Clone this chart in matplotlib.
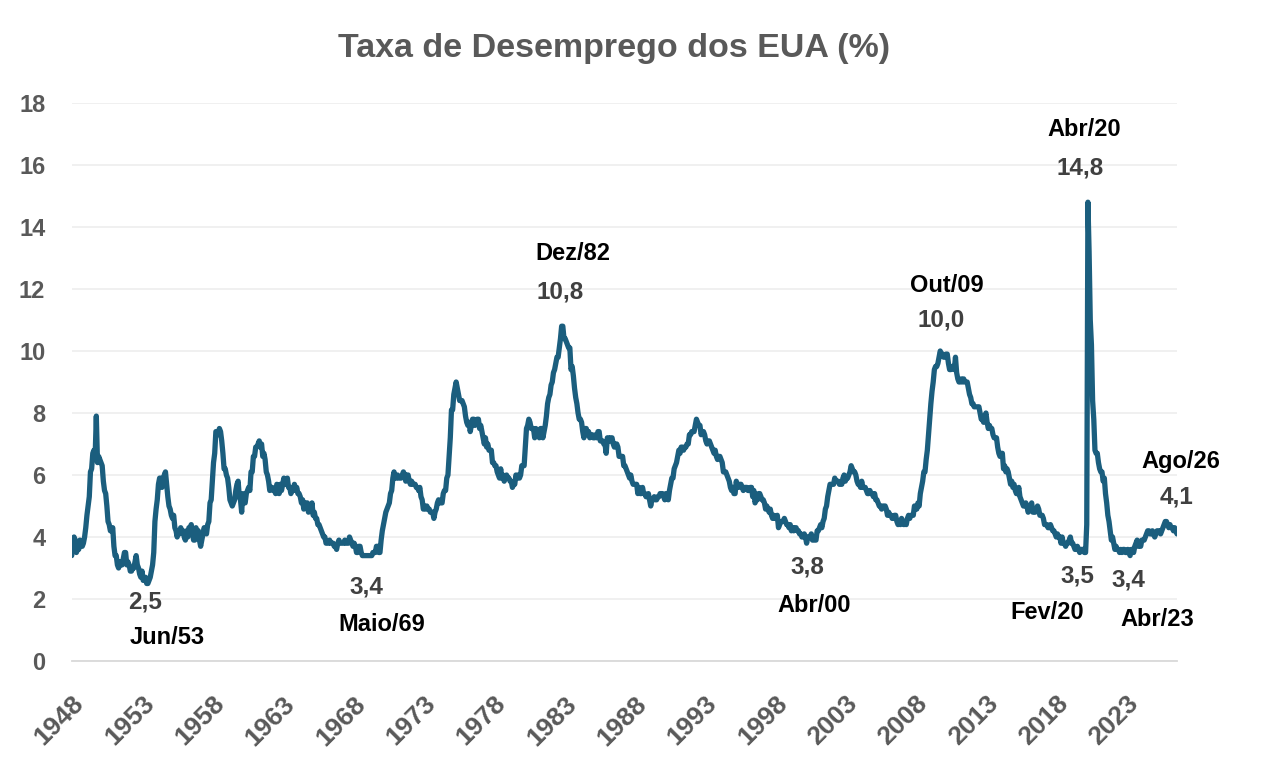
import numpy as np
import matplotlib.pyplot as plt

plt.rcParams['font.family'] = ['Liberation Sans', 'DejaVu Sans']
plt.rcParams['font.weight'] = 'bold'

start_year = 1948

# taxa de desemprego mensal (%), jan/1948 a ago/2026, uma linha por ano
unemp = [
    3.4, 3.8, 4.0, 3.9, 3.5, 3.6, 3.6, 3.9, 3.8, 3.7, 3.8, 4.0,
    4.3, 4.7, 5.0, 5.3, 6.1, 6.2, 6.7, 6.8, 6.6, 7.9, 6.4, 6.6,
    6.5, 6.4, 6.3, 5.8, 5.5, 5.4, 5.0, 4.5, 4.4, 4.2, 4.2, 4.3,
    3.7, 3.4, 3.4, 3.1, 3.0, 3.2, 3.1, 3.1, 3.3, 3.5, 3.5, 3.1,
    3.2, 3.1, 2.9, 2.9, 3.0, 3.0, 3.2, 3.4, 3.1, 3.0, 2.8, 2.7,
    2.9, 2.6, 2.6, 2.7, 2.5, 2.5, 2.6, 2.7, 2.9, 3.1, 3.5, 4.5,
    4.9, 5.2, 5.7, 5.9, 5.9, 5.6, 5.8, 6.0, 6.1, 5.7, 5.3, 5.0,
    4.9, 4.7, 4.6, 4.7, 4.3, 4.2, 4.0, 4.2, 4.1, 4.3, 4.2, 4.2,
    4.0, 3.9, 4.2, 4.0, 4.3, 4.3, 4.4, 4.1, 3.9, 3.9, 4.3, 4.2,
    4.2, 3.9, 3.7, 3.9, 4.1, 4.3, 4.2, 4.1, 4.4, 4.5, 5.1, 5.2,
    5.8, 6.4, 6.7, 7.4, 7.4, 7.3, 7.5, 7.4, 7.1, 6.7, 6.2, 6.2,
    6.0, 5.9, 5.6, 5.2, 5.1, 5.0, 5.1, 5.2, 5.5, 5.7, 5.8, 5.3,
    5.2, 4.8, 5.4, 5.2, 5.1, 5.4, 5.5, 5.6, 5.5, 6.1, 6.1, 6.6,
    6.6, 6.9, 6.9, 7.0, 7.1, 6.9, 7.0, 6.6, 6.7, 6.5, 6.1, 6.0,
    5.8, 5.5, 5.6, 5.6, 5.5, 5.5, 5.4, 5.7, 5.6, 5.4, 5.7, 5.5,
    5.7, 5.9, 5.7, 5.7, 5.9, 5.6, 5.6, 5.4, 5.5, 5.5, 5.7, 5.5,
    5.6, 5.4, 5.4, 5.3, 5.1, 5.2, 4.9, 5.0, 5.1, 5.1, 4.8, 5.0,
    4.9, 5.1, 4.7, 4.8, 4.6, 4.6, 4.4, 4.4, 4.3, 4.2, 4.1, 4.0,
    4.0, 3.8, 3.8, 3.8, 3.9, 3.8, 3.8, 3.8, 3.7, 3.7, 3.6, 3.8,
    3.9, 3.8, 3.8, 3.8, 3.8, 3.9, 3.8, 3.8, 3.8, 4.0, 3.9, 3.8,
    3.7, 3.8, 3.7, 3.5, 3.5, 3.7, 3.7, 3.5, 3.4, 3.4, 3.4, 3.4,
    3.4, 3.4, 3.4, 3.4, 3.4, 3.5, 3.5, 3.5, 3.7, 3.7, 3.5, 3.5,
    3.9, 4.2, 4.4, 4.6, 4.8, 4.9, 5.0, 5.1, 5.4, 5.5, 5.9, 6.1,
    5.9, 5.9, 6.0, 5.9, 5.9, 5.9, 6.0, 6.1, 6.0, 5.8, 6.0, 6.0,
    5.8, 5.7, 5.8, 5.7, 5.7, 5.7, 5.6, 5.6, 5.5, 5.6, 5.3, 5.2,
    4.9, 5.0, 4.9, 5.0, 4.9, 4.9, 4.8, 4.8, 4.8, 4.6, 4.8, 4.9,
    5.1, 5.2, 5.1, 5.1, 5.1, 5.4, 5.5, 5.5, 5.9, 6.0, 6.6, 7.2,
    8.1, 8.1, 8.6, 8.8, 9.0, 8.8, 8.6, 8.4, 8.4, 8.4, 8.3, 8.2,
    7.9, 7.7, 7.6, 7.7, 7.4, 7.6, 7.8, 7.8, 7.6, 7.7, 7.8, 7.8,
    7.5, 7.6, 7.4, 7.2, 7.0, 7.2, 6.9, 7.0, 6.8, 6.8, 6.8, 6.4,
    6.4, 6.3, 6.3, 6.1, 6.0, 5.9, 6.2, 5.9, 6.0, 5.8, 5.9, 6.0,
    5.9, 5.9, 5.8, 5.8, 5.6, 5.7, 5.7, 6.0, 5.9, 6.0, 5.9, 6.0,
    6.3, 6.3, 6.3, 6.9, 7.5, 7.6, 7.8, 7.7, 7.5, 7.5, 7.5, 7.2,
    7.5, 7.4, 7.4, 7.2, 7.5, 7.5, 7.2, 7.4, 7.6, 7.9, 8.3, 8.5,
    8.6, 8.9, 9.0, 9.3, 9.4, 9.6, 9.8, 9.8, 10.1, 10.4, 10.8, 10.8,
    10.4, 10.4, 10.3, 10.2, 10.1, 10.1, 9.4, 9.5, 9.2, 8.8, 8.5, 8.3,
    8.0, 7.8, 7.8, 7.7, 7.4, 7.2, 7.5, 7.5, 7.3, 7.4, 7.2, 7.3,
    7.3, 7.2, 7.2, 7.3, 7.2, 7.4, 7.4, 7.1, 7.1, 7.1, 7.0, 7.0,
    6.7, 7.2, 7.2, 7.1, 7.2, 7.2, 7.0, 6.9, 7.0, 7.0, 6.9, 6.6,
    6.6, 6.6, 6.6, 6.3, 6.3, 6.2, 6.1, 6.0, 5.9, 6.0, 5.8, 5.7,
    5.7, 5.7, 5.7, 5.4, 5.6, 5.4, 5.4, 5.6, 5.4, 5.4, 5.3, 5.3,
    5.4, 5.2, 5.0, 5.2, 5.2, 5.3, 5.2, 5.2, 5.3, 5.3, 5.4, 5.4,
    5.4, 5.3, 5.2, 5.4, 5.4, 5.2, 5.5, 5.7, 5.9, 5.9, 6.2, 6.3,
    6.4, 6.6, 6.8, 6.7, 6.9, 6.9, 6.8, 6.9, 6.9, 7.0, 7.0, 7.3,
    7.3, 7.4, 7.4, 7.4, 7.6, 7.8, 7.7, 7.6, 7.6, 7.3, 7.4, 7.4,
    7.3, 7.1, 7.0, 7.1, 7.1, 7.0, 6.9, 6.8, 6.7, 6.8, 6.6, 6.5,
    6.6, 6.6, 6.5, 6.4, 6.1, 6.1, 6.1, 6.0, 5.9, 5.8, 5.6, 5.5,
    5.6, 5.4, 5.4, 5.8, 5.6, 5.6, 5.7, 5.7, 5.6, 5.5, 5.6, 5.6,
    5.6, 5.5, 5.5, 5.6, 5.6, 5.3, 5.5, 5.1, 5.2, 5.2, 5.4, 5.4,
    5.3, 5.2, 5.2, 5.1, 4.9, 5.0, 4.9, 4.8, 4.9, 4.7, 4.6, 4.7,
    4.6, 4.6, 4.7, 4.3, 4.4, 4.5, 4.5, 4.5, 4.6, 4.5, 4.4, 4.4,
    4.3, 4.4, 4.2, 4.3, 4.2, 4.3, 4.3, 4.2, 4.2, 4.1, 4.1, 4.0,
    4.0, 4.1, 4.0, 3.8, 4.0, 4.0, 4.0, 4.1, 3.9, 3.9, 3.9, 3.9,
    4.2, 4.2, 4.3, 4.4, 4.3, 4.5, 4.6, 4.9, 5.0, 5.3, 5.5, 5.7,
    5.7, 5.7, 5.7, 5.9, 5.8, 5.8, 5.8, 5.7, 5.7, 5.7, 5.9, 6.0,
    5.8, 5.9, 5.9, 6.0, 6.1, 6.3, 6.2, 6.1, 6.1, 6.0, 5.8, 5.7,
    5.7, 5.6, 5.8, 5.6, 5.6, 5.6, 5.5, 5.4, 5.4, 5.5, 5.4, 5.4,
    5.3, 5.4, 5.2, 5.2, 5.1, 5.0, 5.0, 4.9, 5.0, 5.0, 5.0, 4.9,
    4.7, 4.8, 4.7, 4.7, 4.6, 4.6, 4.7, 4.7, 4.5, 4.4, 4.5, 4.4,
    4.6, 4.5, 4.4, 4.5, 4.4, 4.6, 4.7, 4.6, 4.7, 4.7, 4.7, 5.0,
    5.0, 4.9, 5.1, 5.0, 5.4, 5.6, 5.8, 6.1, 6.1, 6.5, 6.8, 7.3,
    7.8, 8.3, 8.7, 9.0, 9.4, 9.5, 9.5, 9.6, 9.8, 10.0, 9.9, 9.9,
    9.8, 9.8, 9.9, 9.9, 9.6, 9.4, 9.4, 9.5, 9.5, 9.4, 9.8, 9.3,
    9.1, 9.0, 9.0, 9.1, 9.0, 9.1, 9.0, 9.0, 9.0, 8.8, 8.6, 8.5,
    8.3, 8.3, 8.2, 8.2, 8.2, 8.2, 8.2, 8.0, 7.8, 7.8, 7.7, 7.9,
    8.0, 7.7, 7.5, 7.6, 7.5, 7.5, 7.3, 7.2, 7.2, 7.2, 6.9, 6.7,
    6.6, 6.7, 6.7, 6.2, 6.3, 6.1, 6.2, 6.1, 5.9, 5.7, 5.8, 5.6,
    5.7, 5.5, 5.4, 5.4, 5.6, 5.3, 5.2, 5.1, 5.0, 5.0, 5.1, 5.0,
    4.8, 4.9, 5.0, 5.1, 4.8, 4.9, 4.8, 4.9, 5.0, 4.9, 4.7, 4.7,
    4.7, 4.6, 4.4, 4.4, 4.4, 4.3, 4.3, 4.4, 4.3, 4.2, 4.2, 4.1,
    4.0, 4.1, 4.0, 4.0, 3.8, 4.0, 3.8, 3.8, 3.7, 3.8, 3.8, 3.9,
    4.0, 3.8, 3.8, 3.7, 3.6, 3.6, 3.7, 3.6, 3.5, 3.6, 3.6, 3.6,
    3.5, 3.5, 4.4, 14.8, 13.2, 11.0, 10.2, 8.4, 7.8, 6.8, 6.7, 6.7,
    6.4, 6.2, 6.1, 6.1, 5.8, 5.9, 5.4, 5.1, 4.7, 4.5, 4.2, 3.9,
    4.0, 3.8, 3.6, 3.7, 3.6, 3.6, 3.5, 3.6, 3.5, 3.6, 3.6, 3.5,
    3.5, 3.6, 3.5, 3.4, 3.6, 3.6, 3.5, 3.7, 3.8, 3.9, 3.7, 3.8,
    3.7, 3.9, 3.9, 3.9, 4.0, 4.1, 4.2, 4.2, 4.1, 4.1, 4.2, 4.1,
    4.0, 4.1, 4.2, 4.2, 4.2, 4.1, 4.2, 4.3, 4.4, 4.5, 4.5, 4.4,
    4.3, 4.4, 4.3, 4.3, 4.2, 4.3, 4.2, 4.1,
]

# pontos destacados: (ano, mes) e rotulo
ann_dates = [(1953, 6), (1969, 5), (1982, 12), (2000, 4), (2009, 10),
             (2020, 2), (2020, 4), (2023, 4), (2026, 8)]
ann_names = ['Jun/53', 'Maio/69', 'Dez/82', 'Abr/00', 'Out/09',
             'Fev/20', 'Abr/20', 'Abr/23', 'Ago/26']
# deslocamento dos rotulos em pixels (dx, dy para baixo)
val_off = [(-3, 18), (-5, 31), (-3, -34), (1, 24), (1, -31),
           (-8, 24), (-8, -34), (-2, 24), (0, -37)]
name_off = [(19, 54), (10, 69), (10, -73), (8, 62), (7, -66),
            (-38, 60), (-4, -73), (27, 64), (4, -72)]

x = start_year + np.arange(len(unemp)) / 12

W, H = 1265, 768
fig = plt.figure(figsize=(W / 100, H / 100), dpi=100)
ax = fig.add_axes([71.7 / W, 1 - 661 / H, (1177 - 71.7) / W, (661 - 103) / H])

ax.plot(x, unemp, color='#1B5E7E', lw=3.8, solid_joinstyle='round',
        solid_capstyle='round', zorder=3)

ax.set_xlim(start_year, x[-1])
ax.set_ylim(0, 18)
ax.set_yticks(range(0, 19, 2))
ax.set_xticks(range(1948, 2024, 5))
ax.grid(axis='y', color='#EDEDED', lw=1.2)
ax.set_axisbelow(True)
for s in ['top', 'right', 'left']:
    ax.spines[s].set_visible(False)
ax.spines['bottom'].set_color('#D9D9D9')
ax.spines['bottom'].set_linewidth(1.3)

ax.tick_params(axis='y', length=0, pad=19, labelsize=17, labelcolor='#595959')
ax.tick_params(axis='x', length=0, pad=22, labelsize=19, labelcolor='#595959')
plt.setp(ax.get_xticklabels(), rotation=45, ha='right', va='top',
         rotation_mode='anchor')

for (yr, mo), name, vo, no in zip(ann_dates, ann_names, val_off, name_off):
    i = (yr - start_year) * 12 + mo - 1
    v = unemp[i]
    ax.annotate(f'{v:.1f}'.replace('.', ','), xy=(x[i], v),
                xytext=(vo[0] * 0.72, -vo[1] * 0.72), textcoords='offset points',
                ha='center', va='center', fontsize=17.5, color='#404040',
                annotation_clip=False)
    ax.annotate(name, xy=(x[i], v),
                xytext=(no[0] * 0.72, -no[1] * 0.72), textcoords='offset points',
                ha='center', va='center', fontsize=17, color='black',
                annotation_clip=False)

fig.text(614 / W, 1 - 57 / H, 'Taxa de Desemprego dos EUA (%)', ha='center',
         va='baseline', fontsize=24.5, color='#595959')

fig.savefig('out.png', dpi=100)
